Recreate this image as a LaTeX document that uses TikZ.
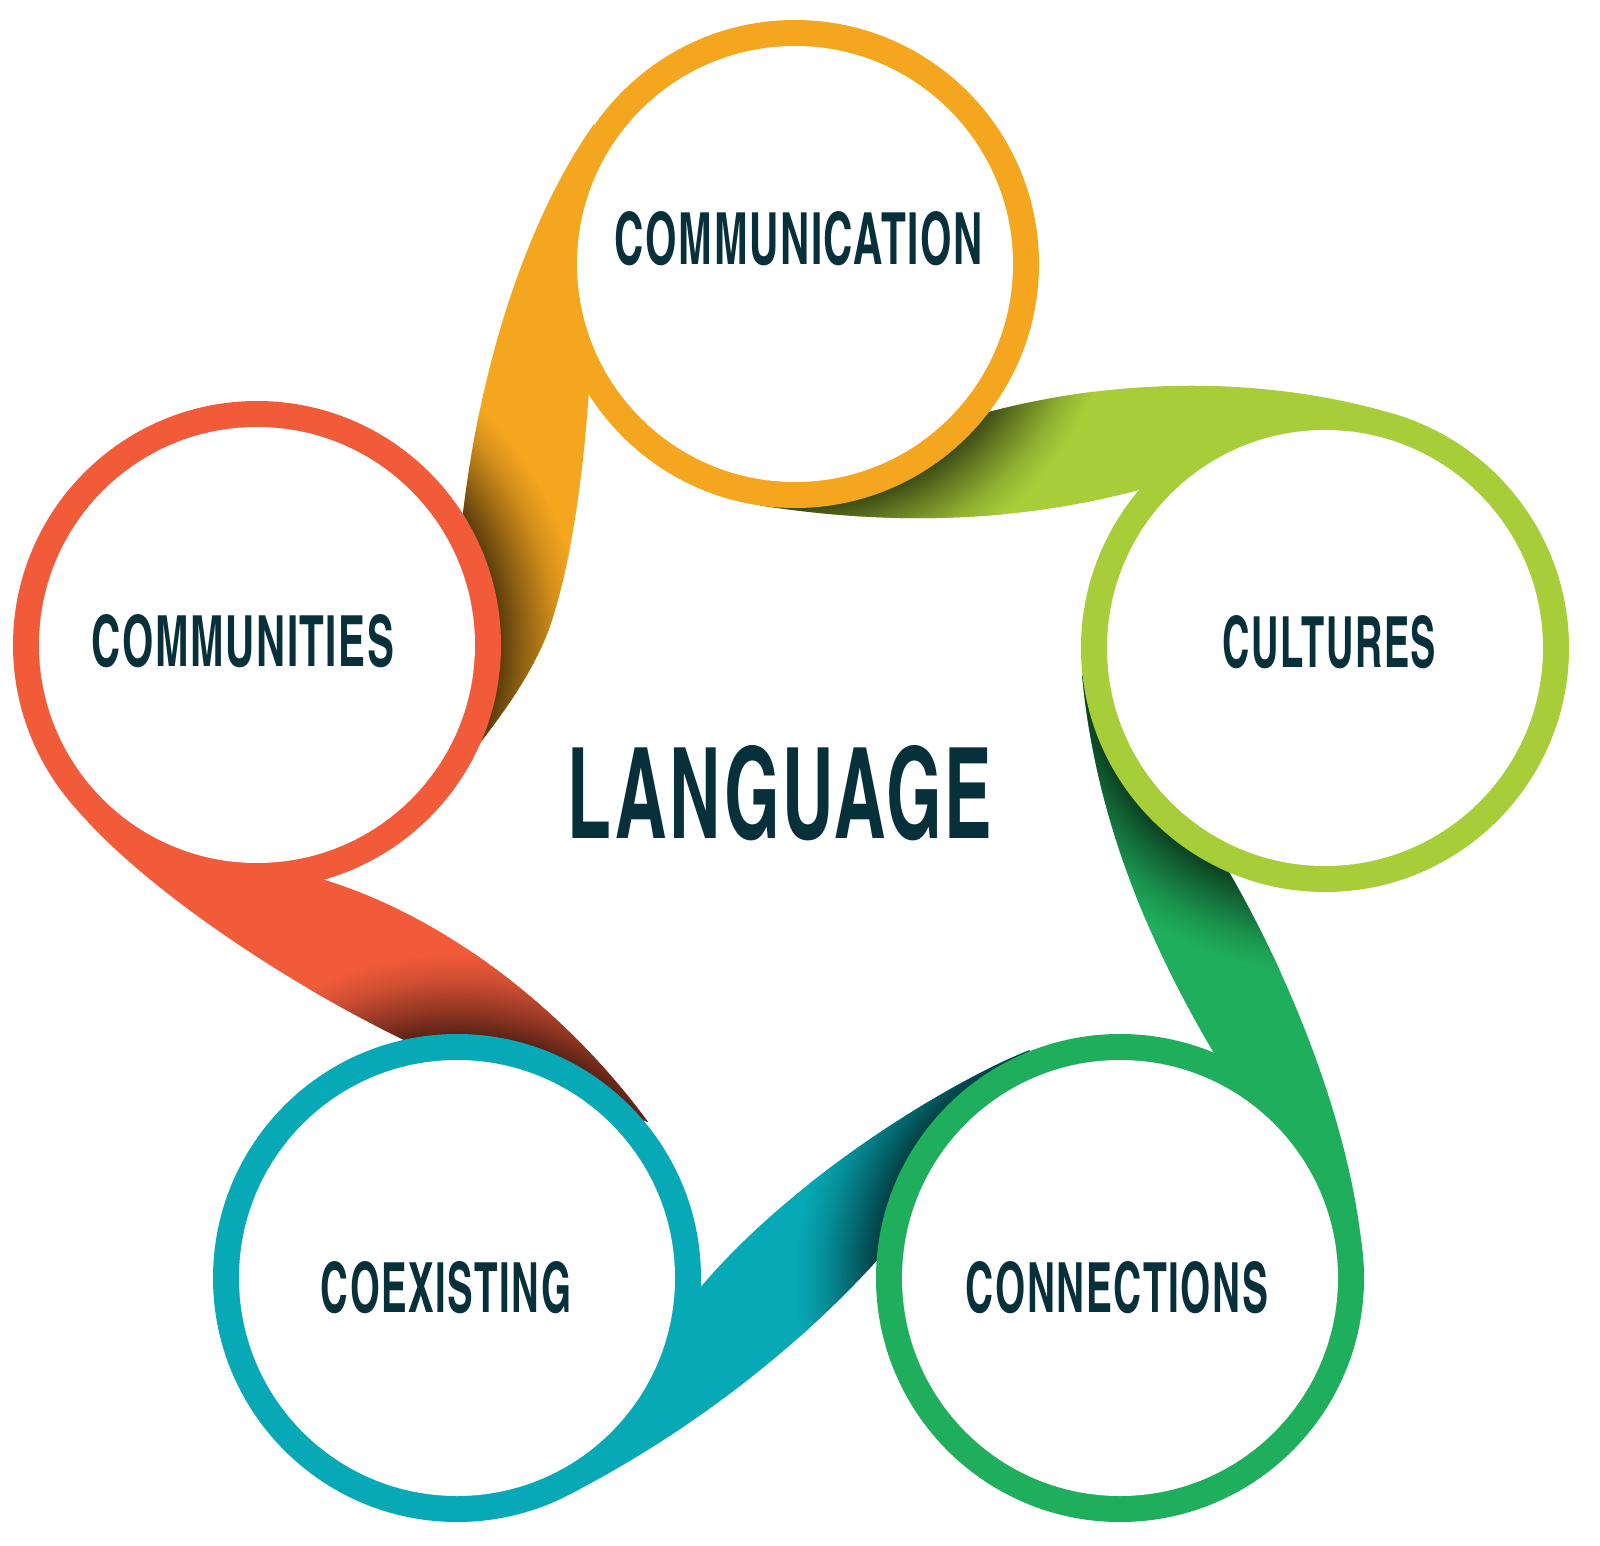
\documentclass[tikz,border=0pt]{standalone}
\usepackage{fontspec}
\setmainfont{Fira Sans}
\newfontfamily\lblfont{texgyreheroscn-bold.otf}[LetterSpace=3]
\usepackage{graphicx}
\definecolor{cO}{HTML}{F5A61F}
\definecolor{cR}{HTML}{F15B3A}
\definecolor{cY}{HTML}{A7CE39}
\definecolor{cG}{HTML}{1FAE5B}
\definecolor{cT}{HTML}{06A9B5}
\definecolor{txt}{HTML}{07303A}
\newcommand\mkshadow[2]{\pgfdeclareradialshading{#1}{\pgfpoint{0bp}{0bp}}{color(0bp)=(#2!38!black); color(18.77bp)=(#2!38!black); color(20.6bp)=(#2!60!black); color(23bp)=(#2!86!black); color(25bp)=(#2); color(50bp)=(#2)}}
\mkshadow{shO}{cO}
\mkshadow{shR}{cR}
\mkshadow{shY}{cY}
\mkshadow{shG}{cG}
\mkshadow{shT}{cT}
% ribbons: outer edge tangent to source ring, inner edge tangent to destination ring
\newcommand\ribO{(594,124) .. controls (530,215) and (478,360) .. (460,540) -- (480,743) .. controls (515,698) and (543,655) .. (555,610) .. controls (570,560) and (587,470) .. (592,330) -- cycle}
\newcommand\ribR{(66,796) .. controls (128,878) and (285,985) .. (425,1050) -- (648,1122) .. controls (575,1022) and (448,910) .. (300,873) -- (280,850) -- cycle}
\newcommand\ribT{(574,1492) .. controls (665,1445) and (790,1362) .. (895,1240) -- (1030,1050) .. controls (960,1077) and (790,1175) .. (690,1300) -- cycle}
\newcommand\ribG{(1364,1290) .. controls (1364,1170) and (1305,1000) .. (1222,860) -- (1082,675) .. controls (1092,780) and (1125,905) .. (1218,1060) -- (1240,1110) -- cycle}
\newcommand\ribY{(1380,410) .. controls (1270,380) and (1120,372) .. (960,420) -- (760,505.5) .. controls (830,516) and (980,535) .. (1150,487) -- (1220,470) -- cycle}
\begin{document}
\begin{tikzpicture}[x=0.01cm,y=-0.01cm,
  lbl/.style={inner sep=0pt,outer sep=0pt,text=txt,font=\lblfont}]
\fill[white] (0,0) rectangle (1600,1546);
\useasboundingbox (0,0) rectangle (1600,1546);
% circle centres
\coordinate (cComm) at (795,264);
\coordinate (cCmty) at (257,645);
\coordinate (cCult) at (1325,648);
\coordinate (cCoex) at (457,1278);
\coordinate (cConn) at (1120,1278);
% ribbons with shadows cast by the destination circle
\fill[cO] \ribO;
\begin{scope}\clip \ribO; \shade[shading=shO] (cCmty) circle (325);\end{scope}
\fill[cR] \ribR;
\begin{scope}\clip \ribR; \shade[shading=shR] (cCoex) circle (325);\end{scope}
\fill[cT] \ribT;
\begin{scope}\clip \ribT; \shade[shading=shT] (cConn) circle (325);\end{scope}
\fill[cG] \ribG;
\begin{scope}\clip \ribG; \shade[shading=shG] (cCult) circle (325);\end{scope}
\fill[cY] \ribY;
\begin{scope}\clip \ribY; \shade[shading=shY] (cComm) circle (325);\end{scope}
% rings
\fill[cO] (cComm) circle (244); \fill[white] (cComm) circle (218);
\fill[cR] (cCmty) circle (244); \fill[white] (cCmty) circle (218);
\fill[cY] (cCult) circle (244); \fill[white] (cCult) circle (218);
\fill[cT] (cCoex) circle (244); \fill[white] (cCoex) circle (218);
\fill[cG] (cConn) circle (244); \fill[white] (cConn) circle (218);
% labels
\node[lbl] (tComm) at (799,238.5) {\resizebox{3.68cm}{0.53cm}{COMMUNICATION}};
\node[lbl] (tCmty) at (243,641) {\resizebox{3.02cm}{0.52cm}{COMMUNITIES}};
\node[lbl] (tCult) at (1329.5,642) {\resizebox{2.13cm}{0.52cm}{CULTURES}};
\node[lbl] (tCoex) at (446,1287.5) {\resizebox{2.50cm}{0.51cm}{COEXISTING}};
\node[lbl] (tConn) at (1117,1287.5) {\resizebox{3.02cm}{0.51cm}{CONNECTIONS}};
\node[lbl] (tLang) at (780,793.5) {\resizebox{4.24cm}{0.93cm}{LANGUAGE}};
\end{tikzpicture}
\end{document}
